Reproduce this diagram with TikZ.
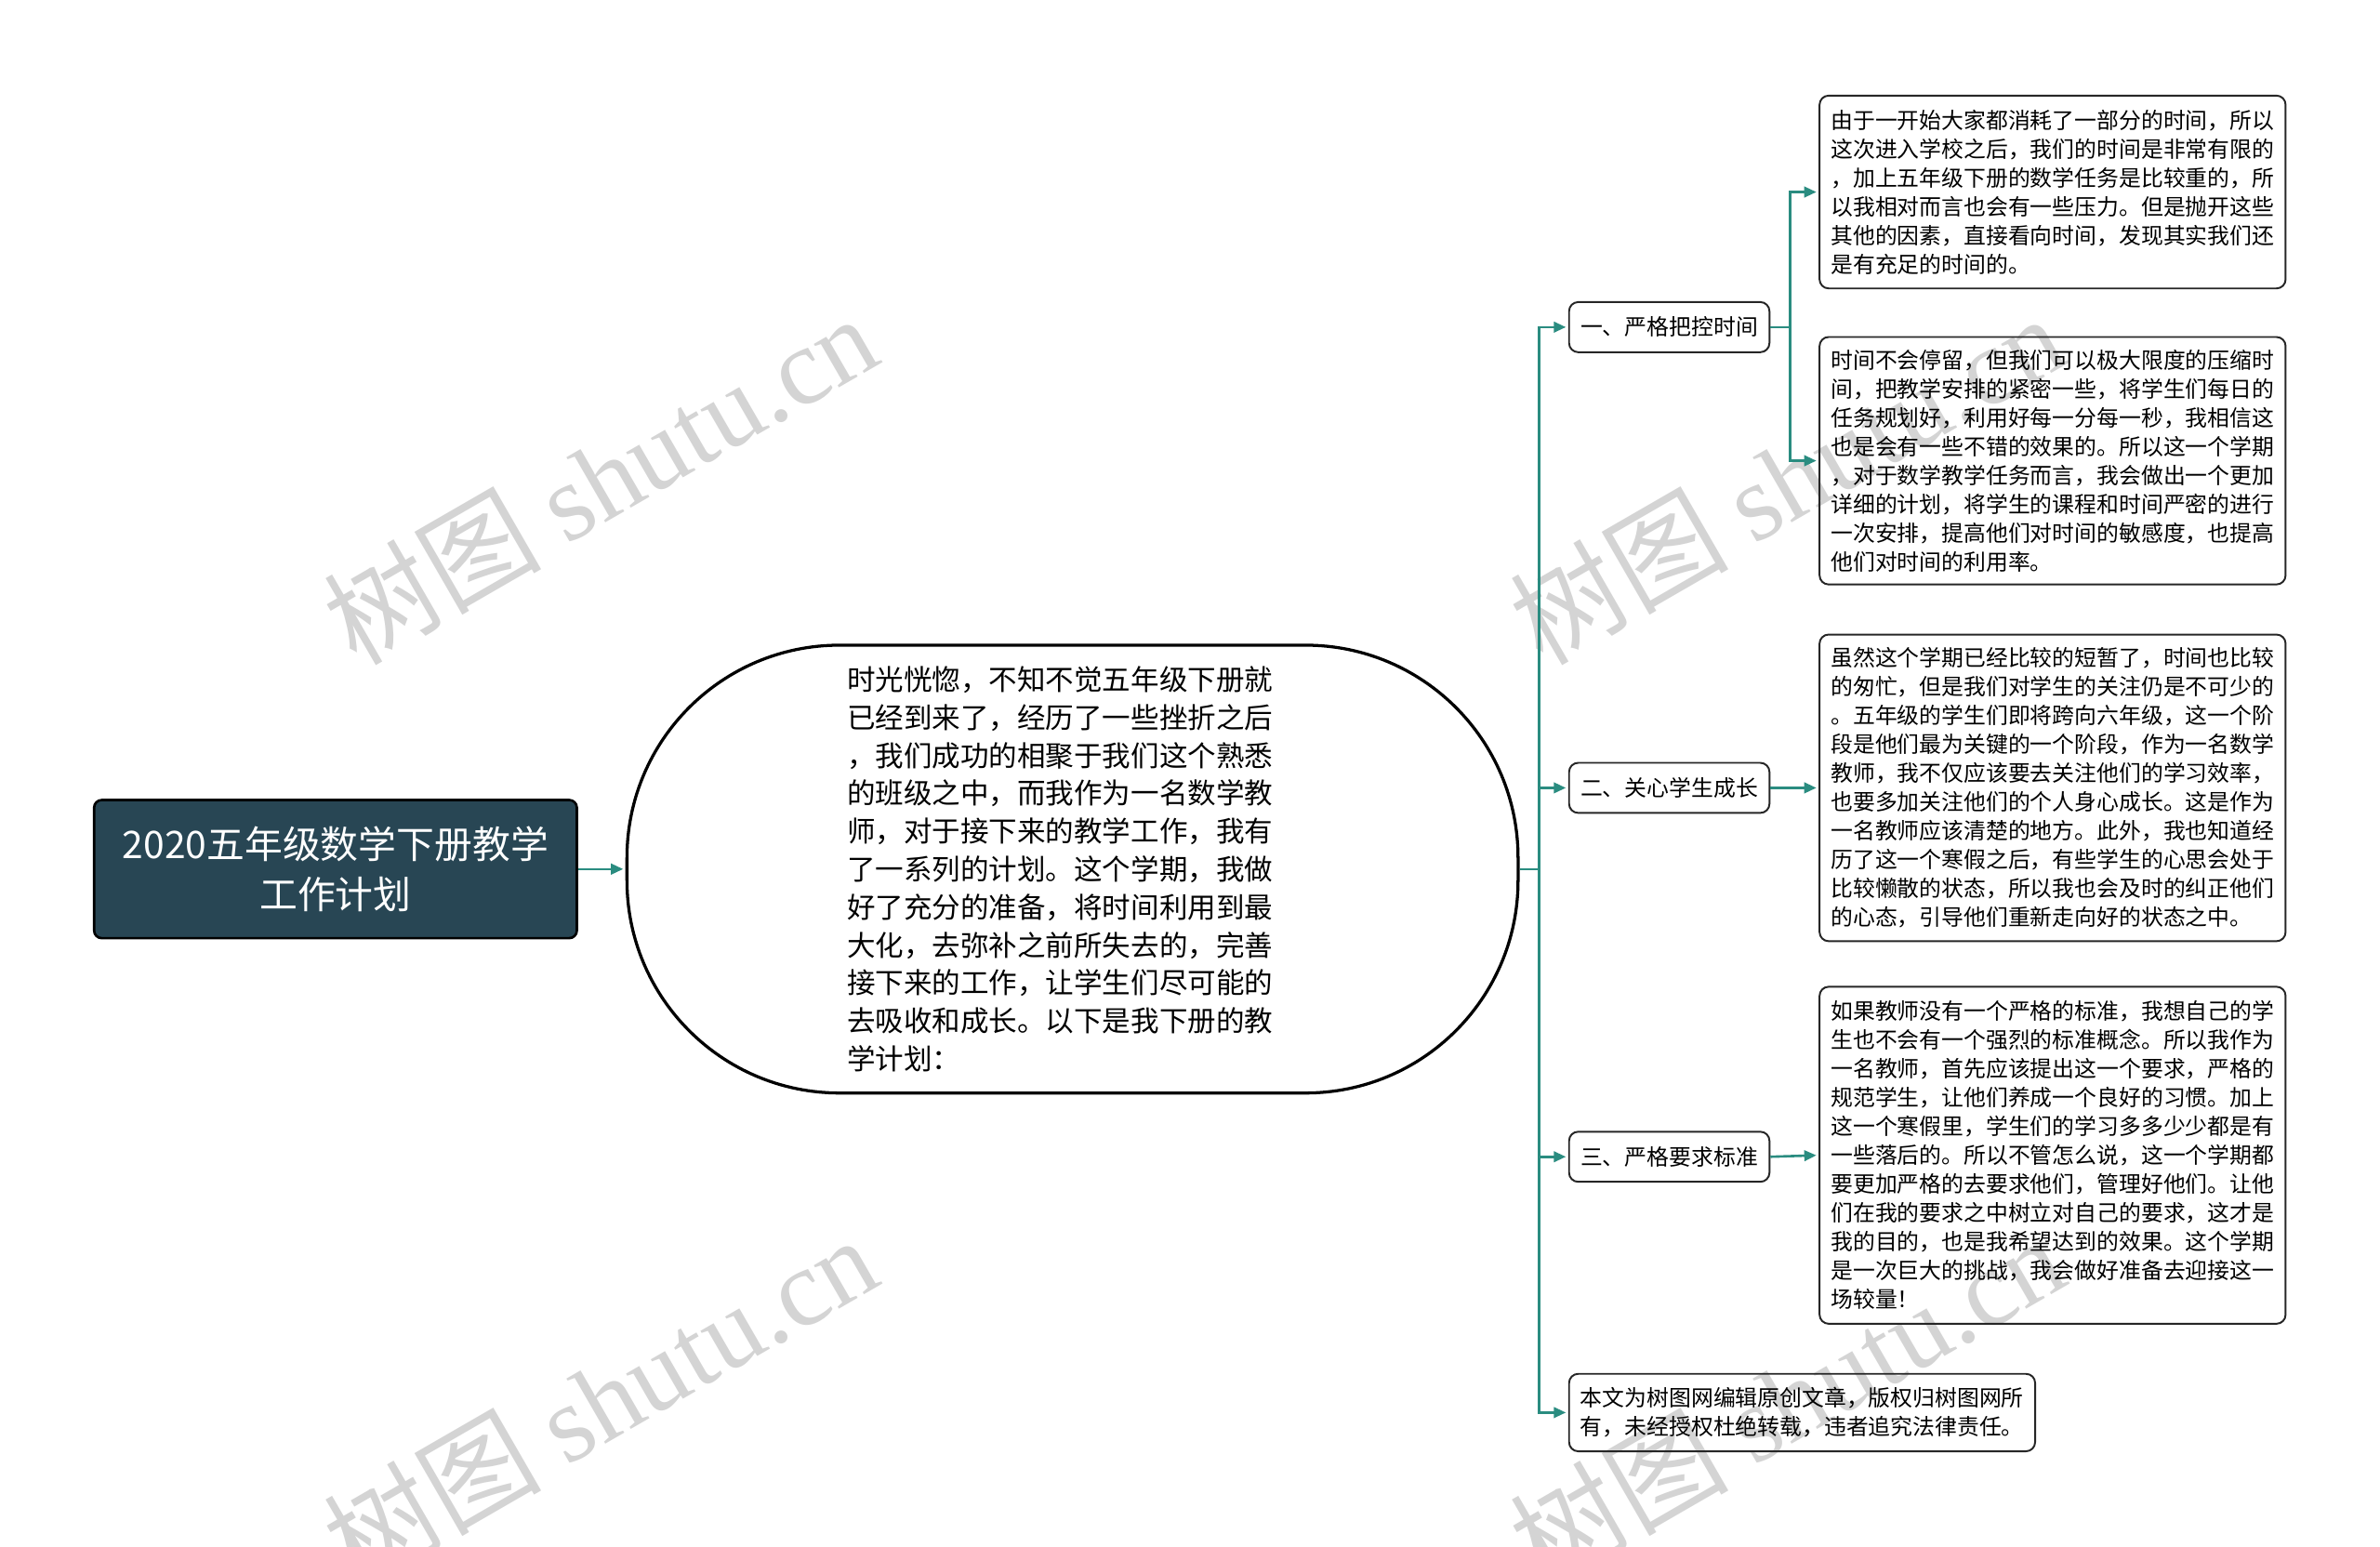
\documentclass[tikz,border=0pt]{standalone}
\usepackage{fontspec}
\setmainfont{Noto Sans CJK SC}
\newfontfamily\wmserif{Liberation Serif}
\usetikzlibrary{arrows.meta}
\definecolor{linkteal}{RGB}{42,140,128}
\definecolor{rootfill}{RGB}{40,70,84}
\begin{document}
\begin{tikzpicture}[x=1pt,y=-1pt,
  leafbox/.style={draw=black!85, line width=1.2pt, rounded corners=6pt, align=left,
    inner xsep=7.5pt, inner ysep=0pt, minimum width=307pt, text width=292pt,
    font=\fontsize{14.6}{19}\selectfont, anchor=west},
  branchbox/.style={draw=black!85, line width=1.2pt, rounded corners=6pt, align=center,
    inner sep=0pt, minimum width=132pt, minimum height=33pt,
    font=\fontsize{14.6}{19}\selectfont, anchor=west},
  conn/.style={draw=linkteal, line width=1.6pt, shorten >=1.5pt, -{Triangle[length=8pt,width=7pt]}},
  wmark/.style={text=black!17, rotate=30, inner sep=0pt, font=\fontsize{72}{76}\selectfont}]
\useasboundingbox (0,0) rectangle (1567.8,1018.5);
% watermarks
\node[wmark] (wm1) at (395,315) {树图 {\wmserif shutu.cn}};
\node[wmark] (wm2) at (1177,315) {树图 {\wmserif shutu.cn}};
\node[wmark] (wm3) at (395,922) {树图 {\wmserif shutu.cn}};
\node[wmark] (wm4) at (1177,922) {树图 {\wmserif shutu.cn}};
% root
\node[draw=black, line width=1.6pt, fill=rootfill, rounded corners=5pt, text=white,
  minimum width=318pt, minimum height=91pt, align=center, inner sep=0pt,
  font=\fontsize{25}{33}\selectfont] (root) at (221,572.5)
  {2020五年级数学下册教学\\工作计划};
% main rounded node
\node[draw=black, line width=2pt, rounded corners=140pt, minimum width=587pt,
  minimum height=295pt, align=left, text width=297pt, inner sep=0pt,
  font=\fontsize{18.7}{25}\selectfont] (ell) at (706.5,572.5)
  {时光恍惚，不知不觉五年级下册就\\
已经到来了，经历了一些挫折之后\\
，我们成功的相聚于我们这个熟悉\\
的班级之中，而我作为一名数学教\\
师，对于接下来的教学工作，我有\\
了一系列的计划。这个学期，我做\\
好了充分的准备，将时间利用到最\\
大化，去弥补之前所失去的，完善\\
接下来的工作，让学生们尽可能的\\
去吸收和成长。以下是我下册的教\\
学计划：};
% branches
\node[branchbox] (b1) at (1033,215.5) {一、严格把控时间};
\node[branchbox] (b2) at (1033,519) {二、关心学生成长};
\node[branchbox] (b3) at (1033,762) {三、严格要求标准};
\node[leafbox, minimum height=51pt] (b4) at (1033,930.5)
  {本文为树图网编辑原创文章，版权归树图网所\\有，未经授权杜绝转载，违者追究法律责任。};
% leaves
\node[leafbox, minimum height=127pt] (l1) at (1198,126.5)
  {由于一开始大家都消耗了一部分的时间，所以\\
这次进入学校之后，我们的时间是非常有限的\\
，加上五年级下册的数学任务是比较重的，所\\
以我相对而言也会有一些压力。但是抛开这些\\
其他的因素，直接看向时间，发现其实我们还\\
是有充足的时间的。};
\node[leafbox, minimum height=163pt] (l2) at (1198,303.5)
  {时间不会停留，但我们可以极大限度的压缩时\\
间，把教学安排的紧密一些，将学生们每日的\\
任务规划好，利用好每一分每一秒，我相信这\\
也是会有一些不错的效果的。所以这一个学期\\
，对于数学教学任务而言，我会做出一个更加\\
详细的计划，将学生的课程和时间严密的进行\\
一次安排，提高他们对时间的敏感度，也提高\\
他们对时间的利用率。};
\node[leafbox, minimum height=202pt] (l3) at (1198,519)
  {虽然这个学期已经比较的短暂了，时间也比较\\
的匆忙，但是我们对学生的关注仍是不可少的\\
。五年级的学生们即将跨向六年级，这一个阶\\
段是他们最为关键的一个阶段，作为一名数学\\
教师，我不仅应该要去关注他们的学习效率，\\
也要多加关注他们的个人身心成长。这是作为\\
一名教师应该清楚的地方。此外，我也知道经\\
历了这一个寒假之后，有些学生的心思会处于\\
比较懒散的状态，所以我也会及时的纠正他们\\
的心态，引导他们重新走向好的状态之中。};
\node[leafbox, minimum height=222pt] (l4) at (1198,761)
  {如果教师没有一个严格的标准，我想自己的学\\
生也不会有一个强烈的标准概念。所以我作为\\
一名教师，首先应该提出这一个要求，严格的\\
规范学生，让他们养成一个良好的习惯。加上\\
这一个寒假里，学生们的学习多多少少都是有\\
一些落后的。所以不管怎么说，这一个学期都\\
要更加严格的去要求他们，管理好他们。让他\\
们在我的要求之中树立对自己的要求，这才是\\
我的目的，也是我希望达到的效果。这个学期\\
是一次巨大的挑战，我会做好准备去迎接这一\\
场较量！};
% connectors
\draw[conn] (root.east) -- (ell.west);
\draw[conn] (ell.east) -- ++(13,0) |- (b1.west);
\draw[conn] (ell.east) -- ++(13,0) |- (b2.west);
\draw[conn] (ell.east) -- ++(13,0) |- (b3.west);
\draw[conn] (ell.east) -- ++(13,0) |- (b4.west);
\draw[conn] (b1.east) -- ++(13,0) |- (l1.west);
\draw[conn] (b1.east) -- ++(13,0) |- (l2.west);
\draw[conn] (b2.east) -- (l3.west);
\draw[conn] (b3.east) -- (l4.west);
\end{tikzpicture}
\end{document}
